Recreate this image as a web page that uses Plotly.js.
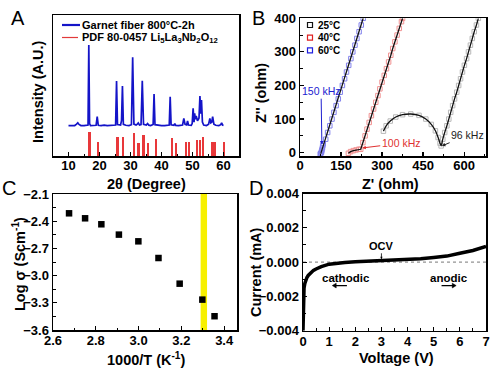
<!DOCTYPE html>
<html>
<head>
<meta charset="utf-8">
<script src="https://cdn.plot.ly/plotly-3.0.1.min.js"></script>
<style>html,body{margin:0;padding:0;background:#fff}#chart{width:500px;height:368px}</style>
</head>
<body>
<div id="chart"></div>
<script>
// ---------- Panel A: XRD ----------
const xrdAngle = [10,11,12,12.6,13,13.4,14,15,16,16.3,16.55,16.8,17.1,18,18.9,19.26,19.6,20.5,21.5,22.5,23.5,24.5,25.2,25.5,25.8,26.8,27.1,27.4,27.7,28.5,29.5,30.3,30.7,31.1,31.8,32.1,32.5,32.9,33.4,33.8,34.2,35.1,35.5,35.9,36.5,37.3,37.6,37.9,39,40,41,42.5,42.8,43.1,44,44.3,44.6,45.5,46.8,47.2,47.6,48.1,48.4,48.7,49.6,49.9,50.2,50.5,50.7,50.9,51.2,51.6,51.9,52.1,52.4,52.65,52.9,53.2,53.6,54.5,55.2,55.6,55.9,56.2,56.5,56.9,57.5,58.5,59.1,59.4,59.7,60];
const xrdIntensity = [21.5,21.8,21.6,22.6,23.5,22.4,21.6,21.5,21.7,22,78.7,23,21.6,21.5,21.8,28,21.8,21.5,21.9,21.5,21.6,21.7,22,53.2,22.3,22,25,49.6,22.4,21.8,21.6,22.2,70,22.6,21.9,22.4,23.5,22,22.3,53.4,22.4,21.9,23,21.9,21.6,22.4,44,22.2,21.6,21.5,21.6,22,42,22.1,21.8,23,21.7,21.6,22,26.7,22.4,22,24.8,22,21.8,23,33.8,24,30.2,26,28.4,25,26,27,42.5,30,39.7,24,22,21.6,22.5,26.7,23.5,24,27.9,22.6,21.8,21.6,22.2,23.5,21.9,21.6];
const pdfAngle = [16.8,19.45,25.8,27.7,31.1,32.6,34.2,35.7,38.3,43.4,44.7,48.0,49.0,51.4,52.3,53.3,56.2,57.1,60.1];
const pdfIntensity = [17.2,10.2,13.2,13.2,16,9.5,14.9,9.5,11.8,12.8,9.5,10.2,10.2,11.3,11.3,13.7,10.2,10.2,9.8];

// ---------- Panel B: Nyquist ----------
const z25Re = [305,315,330,350,375,405,435,460,480,495,505,512,516,522,529,537,544,551,558,565,573,580,587,594,601,609,616,623,630,637,645,652];
const z25Im = [64,80,94,106,113,115,111,100,84,65,45,28,20,40,60,80,100,120,140,160,180,200,220,240,260,280,300,320,340,360,380,400];
const z40Re = [177,185,195,205,215,222,230,238,245,253,261,269,277,285,292,300,308,316,324,332,339,347,355,363,371,375];
const z40Im = [-2,3,6,8,10,10,30,50,70,90,110,130,150,170,190,210,230,250,270,290,310,330,350,370,390,400];
const z60Re = [74,76,78,79,80,82,83,85,94,101,109,117,124,132,140,147,155,163,170,178,186,193,201,208,216,224,231];
const z60Im = [-4,-2,0,4,8,14,20,26,40,60,80,100,120,140,160,180,200,220,240,260,280,300,320,340,360,380,400];
const fit60Re = [76,231];
const fit60Im = [-3,400];

// ---------- Panel C: Arrhenius ----------
const invT = [2.675,2.75,2.826,2.908,2.999,3.093,3.192,3.298,3.355];
const logSigma = [-2.313,-2.368,-2.434,-2.548,-2.622,-2.806,-3.089,-3.265,-3.448];
const roomTBand = [3.29,3.32];

// ---------- Panel D: LSV ----------
const voltage = [0,0.005,0.01,0.02,0.04,0.07,0.1,0.15,0.2,0.3,0.4,0.5,0.7,1.0,1.3,1.6,2.0,2.5,3.0,3.5,4.0,4.5,5.0,5.5,6.0,6.5,7.0];
const current = [-0.0040,-0.0032,-0.0025,-0.0019,-0.0015,-0.00125,-0.00105,-0.0009,-0.00078,-0.0006,-0.00048,-0.0004,-0.00026,-0.00012,-0.00006,-0.00002,0.00002,0.00005,0.00008,0.00011,0.00015,0.0002,0.00027,0.00035,0.00052,0.00068,0.00092];

const W = 500, H = 368;
const PX = x => x / W;
const PY = y => 1 - y / H;
const FONT = 'Liberation Sans, Arial, sans-serif';
const tickFont = {family: FONT, size: 13, color: '#000', weight: 'bold'};

function axis(extra) {
  return Object.assign({
    showline: true, linecolor: '#000', linewidth: 1.5, mirror: true,
    ticks: 'inside', ticklen: 4, tickwidth: 1.2, tickcolor: '#000',
    showgrid: false, zeroline: false, tickfont: tickFont, fixedrange: true
  }, extra);
}
const minorTicks = d => ({dtick: d, ticks: 'inside', ticklen: 2.5, tickcolor: '#000', tickwidth: 1});

const traces = [
  {type: 'bar', x: pdfAngle, y: pdfIntensity, width: 0.7, marker: {color: '#e8383a', line: {width: 0}}, xaxis: 'x', yaxis: 'y', showlegend: false, name: 'PDF 80-0457'},
  {type: 'scatter', mode: 'lines', x: xrdAngle, y: xrdIntensity, line: {color: '#1414c8', width: 1.7}, xaxis: 'x', yaxis: 'y', showlegend: false, name: 'Garnet fiber'},

  {type: 'scatter', mode: 'markers', x: z25Re, y: z25Im, opacity: 0.6, marker: {symbol: 'square-open', size: 4.5, color: '#8a8a8a', line: {width: 1}}, xaxis: 'x2', yaxis: 'y2', showlegend: false},
  {type: 'scatter', mode: 'markers', x: z40Re, y: z40Im, opacity: 0.6, marker: {symbol: 'square-open', size: 4.5, color: '#e84a4a', line: {width: 1}}, xaxis: 'x2', yaxis: 'y2', showlegend: false},
  {type: 'scatter', mode: 'markers', x: z60Re, y: z60Im, opacity: 0.6, marker: {symbol: 'square-open', size: 4.5, color: '#3030e0', line: {width: 1}}, xaxis: 'x2', yaxis: 'y2', showlegend: false},
  {type: 'scatter', mode: 'lines', x: z25Re, y: z25Im, line: {color: '#111', width: 1.3, shape: 'spline', smoothing: 0.6}, xaxis: 'x2', yaxis: 'y2', showlegend: false},
  {type: 'scatter', mode: 'lines', x: z40Re, y: z40Im, line: {color: '#111', width: 1.3}, xaxis: 'x2', yaxis: 'y2', showlegend: false},
  {type: 'scatter', mode: 'lines', x: fit60Re, y: fit60Im, line: {color: '#111', width: 1.3}, xaxis: 'x2', yaxis: 'y2', showlegend: false},

  {type: 'scatter', mode: 'markers', x: invT, y: logSigma, marker: {symbol: 'square', size: 6.5, color: '#000'}, xaxis: 'x3', yaxis: 'y3', showlegend: false},

  {type: 'scatter', mode: 'lines', x: voltage, y: current, line: {color: '#000', width: 3.5}, xaxis: 'x4', yaxis: 'y4', showlegend: false}
];

const titleFont = {family: FONT, size: 14.5, color: '#000', weight: 'bold'};
function ann(text, x, y, opts) {
  return Object.assign({text: text, x: PX(x), y: PY(y), xref: 'paper', yref: 'paper', showarrow: false,
    xanchor: 'center', yanchor: 'middle', font: titleFont}, opts || {});
}
const legFont = {family: FONT, size: 11, color: '#000', weight: 'bold'};
const legFontB = {family: FONT, size: 10, color: '#000', weight: 'bold'};
const letterFont = {family: FONT, size: 20, color: '#000'};

const annotations = [
  ann('A', 18, 18, {font: letterFont}),
  ann('B', 258, 18, {font: letterFont}),
  ann('C', 9, 188, {font: letterFont}),
  ann('D', 256, 188, {font: letterFont}),
  // axis titles
  ann('2θ (Degree)', 146, 184),
  ann('Intensity (A.U.)', 38, 92, {textangle: -90}),
  ann("Z' (ohm)", 390, 184),
  ann("Z'' (ohm)", 261, 93, {textangle: -90}),
  ann('1000/T (K<sup>-1</sup>)', 146, 359),
  ann('Log σ (Scm<sup>-1</sup>)', 19, 264, {textangle: -90}),
  ann('Voltage (V)', 396, 358),
  ann('Current (mA)', 256, 272, {textangle: -90}),
  // legend A
  ann('Garnet fiber 800°C-2h', 80, 25, {xanchor: 'left', font: legFont}),
  ann('PDF 80-0457 Li<sub>5</sub>La<sub>3</sub>Nb<sub>2</sub>O<sub>12</sub>', 80, 38, {xanchor: 'left', font: legFont}),
  // legend B
  ann('25°C', 316, 25, {xanchor: 'left', font: legFontB}),
  ann('40°C', 316, 37.7, {xanchor: 'left', font: legFontB}),
  ann('60°C', 316, 50.4, {xanchor: 'left', font: legFontB}),
  // panel B frequency labels
  {text: '150 kHz', x: 80, y: 24, xref: 'x2', yref: 'y2', axref: 'x2', ayref: 'y2', ax: 77, ay: 183,
   showarrow: true, arrowhead: 2, arrowsize: 0.7, arrowwidth: 1, arrowcolor: '#2020d0', standoff: 0,
   font: {family: FONT, size: 10.5, color: '#2020d0'}},
  {text: '100 kHz', x: 228, y: 14, xref: 'x2', yref: 'y2', axref: 'x2', ayref: 'y2', ax: 370, ay: 28,
   showarrow: true, arrowhead: 2, arrowsize: 0.7, arrowwidth: 1, arrowcolor: '#e03030', standoff: 0,
   font: {family: FONT, size: 10.5, color: '#e03030'}},
  {text: '96 kHz', x: 519, y: 20, xref: 'x2', yref: 'y2', axref: 'x2', ayref: 'y2', ax: 612, ay: 52,
   showarrow: true, arrowhead: 2, arrowsize: 0.7, arrowwidth: 1, arrowcolor: '#222', standoff: 0,
   font: {family: FONT, size: 10.5, color: '#222'}},
  // panel D labels
  {text: 'OCV', x: 3.0, y: 0.00011, xref: 'x4', yref: 'y4', axref: 'x4', ayref: 'y4', ax: 3.0, ay: 0.00095,
   showarrow: true, arrowhead: 2, arrowsize: 0.6, arrowwidth: 0.8, arrowcolor: '#000', standoff: 1,
   font: {family: FONT, size: 11, color: '#000', weight: 'bold'}},
  {text: 'cathodic', x: 1.65, y: -0.00093, xref: 'x4', yref: 'y4', showarrow: false,
   font: {family: FONT, size: 11.5, color: '#000', weight: 'bold'}},
  {text: 'anodic', x: 5.6, y: -0.00093, xref: 'x4', yref: 'y4', showarrow: false,
   font: {family: FONT, size: 11.5, color: '#000', weight: 'bold'}}
];

const shapes = [
  // legend A samples
  {type: 'line', xref: 'paper', yref: 'paper', x0: PX(62), x1: PX(80), y0: PY(25), y1: PY(25), line: {color: '#1414c8', width: 2.2}},
  {type: 'line', xref: 'paper', yref: 'paper', x0: PX(62), x1: PX(78), y0: PY(37.5), y1: PY(37.5), line: {color: '#e23a3a', width: 1.2}},
  // legend B samples
  {type: 'rect', xref: 'paper', yref: 'paper', x0: PX(307.5), x1: PX(312.5), y0: PY(22.5), y1: PY(27.5), line: {color: '#111', width: 1.2}},
  {type: 'rect', xref: 'paper', yref: 'paper', x0: PX(307.5), x1: PX(312.5), y0: PY(35.2), y1: PY(40.2), line: {color: '#e02020', width: 1.2}},
  {type: 'rect', xref: 'paper', yref: 'paper', x0: PX(307.5), x1: PX(312.5), y0: PY(47.9), y1: PY(52.9), line: {color: '#2020e0', width: 1.2}},
  // yellow band in C
  {type: 'rect', xref: 'x3', yref: 'y3 domain', x0: roomTBand[0], x1: roomTBand[1], y0: 0, y1: 1, fillcolor: '#f7f000', line: {width: 0}, layer: 'below'},
  // zero line in D
  {type: 'line', xref: 'x4 domain', yref: 'y4', x0: 0, x1: 1, y0: 0, y1: 0, line: {color: '#777', width: 1, dash: 'dot'}, layer: 'below'},
  // cathodic / anodic arrows in D
  {type: 'line', xref: 'x4', yref: 'y4', x0: 1.22, x1: 1.68, y0: -0.00137, y1: -0.00137, line: {color: '#000', width: 1.3}},
  {type: 'path', xref: 'x4', yref: 'y4', path: 'M1.12,-0.00137 L1.27,-0.00123 L1.27,-0.00151 Z', fillcolor: '#000', line: {color: '#000', width: 0.5}},
  {type: 'line', xref: 'x4', yref: 'y4', x0: 5.3, x1: 5.76, y0: -0.00137, y1: -0.00137, line: {color: '#000', width: 1.3}},
  {type: 'path', xref: 'x4', yref: 'y4', path: 'M5.86,-0.00137 L5.71,-0.00123 L5.71,-0.00151 Z', fillcolor: '#000', line: {color: '#000', width: 0.5}}
];

const layout = {
  width: W, height: H,
  margin: {l: 0, r: 0, t: 0, b: 0},
  paper_bgcolor: '#fff', plot_bgcolor: 'rgba(0,0,0,0)',
  showlegend: false,
  bargap: 0,
  font: {family: FONT, color: '#000'},
  xaxis: axis({domain: [PX(53), PX(239)], anchor: 'y', range: [5, 65], tick0: 0, dtick: 10, minor: minorTicks(5), ticklabelstandoff: -3}),
  yaxis: axis({domain: [PY(156), PY(15)], anchor: 'x', range: [0, 100], showticklabels: false, ticks: ''}),
  xaxis2: axis({domain: [PX(300), PX(486)], anchor: 'y2', range: [0, 680], tick0: 0, dtick: 150, minor: minorTicks(75), ticklabelstandoff: -3}),
  yaxis2: axis({domain: [PY(156), PY(18.3)], anchor: 'x2', range: [-10, 400], tick0: 0, dtick: 100, minor: minorTicks(50)}),
  xaxis3: axis({domain: [PX(53), PX(237)], anchor: 'y3', range: [2.6, 3.46], tick0: 2.6, dtick: 0.2, tickformat: '.1f', minor: minorTicks(0.1), ticklabelstandoff: -2}),
  yaxis3: axis({domain: [PY(330), PY(194)], anchor: 'x3', range: [-3.6, -2.1], tick0: -3.6, dtick: 0.3, tickformat: '.1f', minor: minorTicks(0.15)}),
  xaxis4: axis({domain: [PX(303), PX(486)], anchor: 'y4', range: [0, 7], tick0: 0, dtick: 1, minor: minorTicks(0.5), ticklabelstandoff: -2}),
  yaxis4: axis({domain: [PY(330.7), PY(193.5)], anchor: 'x4', range: [-0.004, 0.004], tick0: -0.004, dtick: 0.002, tickformat: '.3f', minor: minorTicks(0.001)}),
  annotations: annotations,
  shapes: shapes
};

Plotly.newPlot('chart', traces, layout, {staticPlot: true, displayModeBar: false});
</script>
</body>
</html>
